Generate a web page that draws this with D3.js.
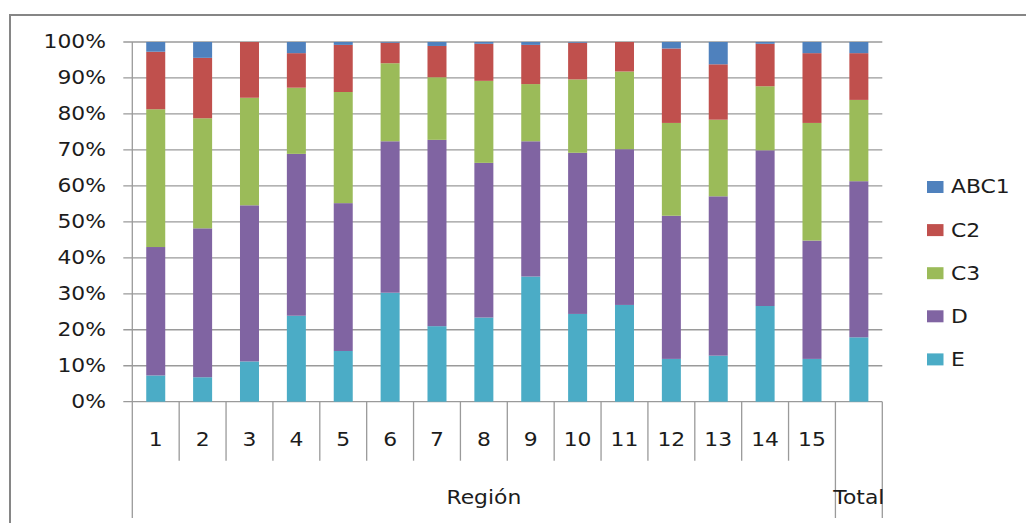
<!DOCTYPE html>
<html>
<head>
<meta charset="utf-8">
<script src="https://cdn.jsdelivr.net/npm/d3@7"></script>
<style>
  body { margin: 0; background: #fff; }
  svg { display: block; }
</style>
</head>
<body>
<div id="chart"></div>
<script>
// Data (percent shares)
const categories = ["1", "2", "3", "4", "5", "6", "7", "8", "9", "10", "11", "12", "13", "14", "15", "Total"];
const seriesNames = ["E", "D", "C3", "C2", "ABC1"];
const valuesE = [7.3, 6.8, 11.2, 23.9, 14.1, 30.3, 21.0, 23.4, 34.8, 24.4, 26.9, 11.9, 12.8, 26.6, 11.9, 17.9];
const valuesD = [35.7, 41.4, 43.4, 45.0, 41.1, 42.1, 51.8, 43.0, 37.6, 44.8, 43.3, 39.8, 44.3, 43.3, 32.9, 43.4];
const valuesC3 = [38.3, 30.6, 29.9, 18.4, 30.9, 21.7, 17.4, 22.8, 15.9, 20.4, 21.6, 25.8, 21.3, 17.8, 32.7, 22.6];
const valuesC2 = [16.0, 16.8, 15.5, 9.6, 13.1, 5.7, 8.7, 10.3, 10.9, 10.2, 8.2, 20.7, 15.4, 11.8, 19.4, 13.0];
const valuesABC1 = [2.7, 4.4, 0.0, 3.1, 0.8, 0.2, 1.1, 0.5, 0.8, 0.2, 0.0, 1.8, 6.2, 0.5, 3.1, 3.1];
const yTicks = [0, 10, 20, 30, 40, 50, 60, 70, 80, 90, 100];
const legendOrder = ["ABC1", "C2", "C3", "D", "E"];
const groupLabels = [{ label: "Región", from: 0, to: 15 }, { label: "Total", from: 15, to: 16 }];

const colors = {
  ABC1: "#4F81BD",
  C2: "#C0504D",
  C3: "#9BBB59",
  D: "#8064A2",
  E: "#4BACC6",
};

const width = 1026;
const height = 523;
const plot = { left: 132.3, right: 882.3, top: 42, bottom: 401.7 };
const fontFamily = "'DejaVu Sans', Verdana, sans-serif";
const fontSize = 19;
const stretch = 1.15; // text in the picture is a little wide
const textColor = "#1c1c1c";

// build table for d3.stack
const table = categories.map((c, i) => ({
  cat: c,
  E: valuesE[i],
  D: valuesD[i],
  C3: valuesC3[i],
  C2: valuesC2[i],
  ABC1: valuesABC1[i],
}));

const svg = d3
  .select("#chart")
  .append("svg")
  .attr("width", width)
  .attr("height", height);

// outer chart border (runs off the right and bottom of the window)
svg
  .append("rect")
  .attr("x", 10)
  .attr("y", 15)
  .attr("width", 1100)
  .attr("height", 600)
  .attr("fill", "none")
  .attr("stroke", "#868686")
  .attr("stroke-width", 2);

// Scales
const xScale = d3
  .scaleBand()
  .domain(categories)
  .range([plot.left, plot.right])
  .paddingInner(0)
  .paddingOuter(0);

const yScale = d3.scaleLinear().domain([0, 100]).range([plot.bottom, plot.top]);

const barWidth = 19;

// small helper for stretched text
function addText(x, y, str, anchor) {
  svg
    .append("g")
    .attr("transform", `translate(${x},${y}) scale(${stretch},1)`)
    .append("text")
    .attr("text-anchor", anchor)
    .attr("dominant-baseline", "central")
    .style("font-family", fontFamily)
    .style("font-size", fontSize + "px")
    .attr("fill", textColor)
    .text(str);
}

// gridlines
svg
  .append("g")
  .selectAll("line")
  .data(yTicks)
  .join("line")
  .attr("x1", plot.left - 9)
  .attr("x2", plot.right)
  .attr("y1", (d) => yScale(d))
  .attr("y2", (d) => yScale(d))
  .attr("stroke", "#9a9a9a")
  .attr("stroke-width", 1.3);

// y axis line
svg
  .append("line")
  .attr("x1", plot.left)
  .attr("x2", plot.left)
  .attr("y1", plot.top)
  .attr("y2", plot.bottom)
  .attr("stroke", "#9a9a9a")
  .attr("stroke-width", 1.3);

// y tick labels
yTicks.forEach((t) => addText(106, yScale(t), t + "%", "end"));

// Bars
const stacked = d3.stack().keys(seriesNames)(table);

svg
  .append("g")
  .selectAll("g")
  .data(stacked)
  .join("g")
  .attr("fill", (s) => colors[s.key])
  .selectAll("rect")
  .data((s) => s)
  .join("rect")
  .attr("x", (d) => xScale(d.data.cat) + xScale.bandwidth() / 2 - barWidth / 2)
  .attr("y", (d) => yScale(d[1]))
  .attr("width", barWidth)
  .attr("height", (d) => yScale(d[0]) - yScale(d[1]));

// x axis: category separators
const sepLines = d3.range(categories.length + 1);
svg
  .append("g")
  .selectAll("line")
  .data(sepLines)
  .join("line")
  .attr("x1", (i) => plot.left + i * xScale.bandwidth())
  .attr("x2", (i) => plot.left + i * xScale.bandwidth())
  .attr("y1", plot.bottom)
  .attr("y2", (i) => (i === 0 || i >= 15 ? 518 : 460.7))
  .attr("stroke", "#9a9a9a")
  .attr("stroke-width", 1.3);

// category labels (not for Total, it sits on the group row)
categories.slice(0, 15).forEach((c) => {
  addText(xScale(c) + xScale.bandwidth() / 2, 440, c, "middle");
});

// group labels
groupLabels.forEach((g) => {
  const x0 = plot.left + g.from * xScale.bandwidth();
  const x1 = plot.left + g.to * xScale.bandwidth();
  addText((x0 + x1) / 2, 498, g.label, "middle");
});

// Legend
const legend = svg.append("g").attr("transform", "translate(927, 187)");
legendOrder.forEach((k, i) => {
  legend
    .append("rect")
    .attr("x", 0)
    .attr("y", i * 43.1 - 6)
    .attr("width", 16.5)
    .attr("height", 12)
    .attr("fill", colors[k]);
  addText(951, 187 + i * 43.1, k, "start");
});
</script>
</body>
</html>
